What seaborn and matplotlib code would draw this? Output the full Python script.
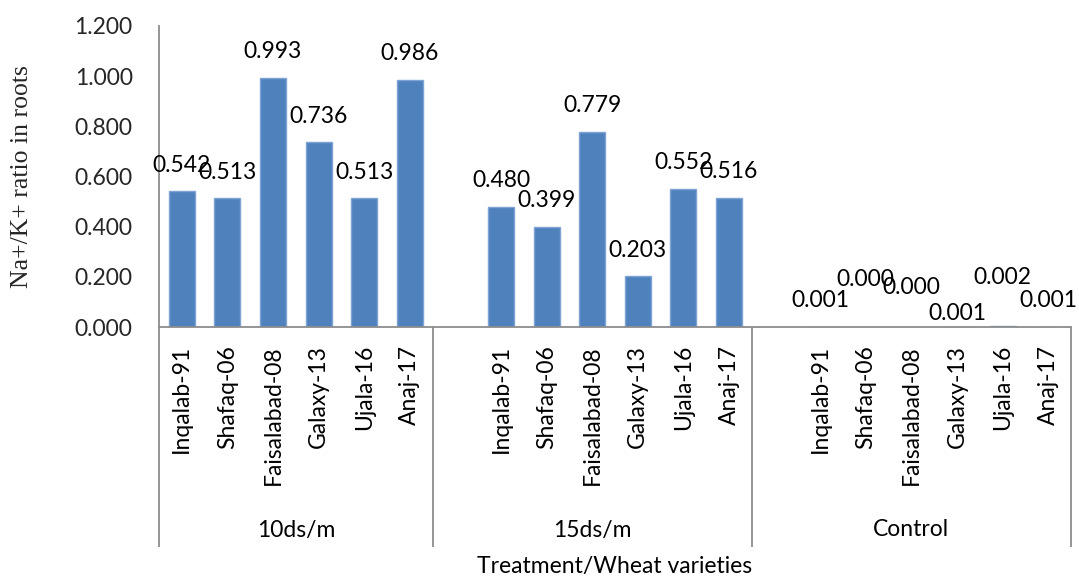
import numpy as np
import pandas as pd
import matplotlib
matplotlib.use("Agg")
import matplotlib.pyplot as plt
import matplotlib.transforms as mtransforms
import seaborn as sns

# Na+/K+ ratio in roots for six wheat varieties under three treatments
treatments = ["10ds/m", "15ds/m", "Control"]
varieties = ["Inqalab-91", "Shafaq-06", "Faisalabad-08", "Galaxy-13", "Ujala-16", "Anaj-17"]
ratio_10 = [0.542, 0.513, 0.993, 0.736, 0.513, 0.986]
ratio_15 = [0.480, 0.399, 0.779, 0.203, 0.552, 0.516]
ratio_control = [0.001, 0.000, 0.000, 0.001, 0.002, 0.001]
y_ticks = [0.0, 0.2, 0.4, 0.6, 0.8, 1.0, 1.2]

# vertical nudges (px) for value labels that were moved apart in the control group
label_nudge = [0, 0, 0, 0, 0, 0,
               0, 0, 0, 0, 0, 0,
               0, 22, 13, -13, 23, 0]

sns.set_style("white")
plt.rcParams["font.family"] = ["Lato", "DejaVu Sans"]

BAR_COLOR = "#4F81BD"
AXIS_GRAY = "#8C8C8C"
LABEL_SIZE = 16.5

# slot layout: group 1 fills six slots, later groups start with an empty slot
rows = []
groups_slots = []
slot = 0
for gi, (trt, vals) in enumerate(zip(treatments, [ratio_10, ratio_15, ratio_control])):
    if gi > 0:
        slot += 1  # empty category ahead of the group
    start = slot - (1 if gi > 0 else 0)
    for var, v in zip(varieties, vals):
        rows.append({"slot": slot, "treatment": trt, "variety": var, "ratio": v})
        slot += 1
    groups_slots.append((start, slot - 1))
df = pd.DataFrame(rows)
n_slots = slot

fig = plt.figure(figsize=(10.79, 5.79), dpi=100)
ax = fig.add_axes([159 / 1079, 1 - 327 / 579, (1071 - 159) / 1079, (327 - 26) / 579])

sns.barplot(data=df, x="slot", y="ratio", native_scale=True, width=0.57,
            color=BAR_COLOR, saturation=1, edgecolor="#7FA3D3", linewidth=1.0,
            errorbar=None, ax=ax)
# bars of zero height get no outline
for p in ax.patches:
    if p.get_height() == 0:
        p.set_linewidth(0)

ax.set_xlim(-0.5, n_slots - 0.5)
ax.set_ylim(0, 1.2)
ax.set_yticks(y_ticks)
ax.set_yticklabels([f"{t:.3f}" for t in y_ticks], fontsize=LABEL_SIZE)
ax.tick_params(axis="y", length=0, pad=19)
ax.set_xticks([])
ax.set_xlabel("")
ax.set_ylabel("Na+/K+ ratio in roots", family="Liberation Serif", fontsize=18.5)
ax.yaxis.set_label_coords(-0.138, 0.5)

for side in ["top", "right"]:
    ax.spines[side].set_visible(False)
for side in ["left", "bottom"]:
    ax.spines[side].set_color(AXIS_GRAY)
    ax.spines[side].set_linewidth(1.3)

# value labels above bars
px_to_pt = 72 / fig.dpi
for (_, r), nudge in zip(df.iterrows(), label_nudge):
    ax.annotate(f"{r['ratio']:.3f}", xy=(r["slot"], r["ratio"]),
                xytext=(0, (26 + nudge) * px_to_pt), textcoords="offset points",
                ha="center", va="center", fontsize=LABEL_SIZE, color="black")

# two-level category axis
trans = mtransforms.blended_transform_factory(ax.transData, ax.transAxes)
ax_h_px = 327 - 26
def ypix(py):
    return (327 - py) / ax_h_px

for _, r in df.iterrows():
    ax.text(r["slot"], ypix(345), r["variety"], transform=trans, rotation=90,
            ha="center", va="top", fontsize=LABEL_SIZE, color="black")

for (s0, s1), trt in zip(groups_slots, treatments):
    ax.text((s0 + s1) / 2, ypix(530), trt, transform=trans,
            ha="center", va="center", fontsize=LABEL_SIZE, color="black")

bounds = [-0.5] + [s1 + 0.5 for (_, s1) in groups_slots]
for b in bounds:
    ax.plot([b, b], [0, ypix(547)], transform=trans, color=AXIS_GRAY,
            lw=1.3, clip_on=False, solid_capstyle="butt")

ax.text(0.5, ypix(567), "Treatment/Wheat varieties", transform=ax.transAxes,
        ha="center", va="center", fontsize=LABEL_SIZE, color="black")

fig.savefig("out.png", dpi=100, facecolor="white")
